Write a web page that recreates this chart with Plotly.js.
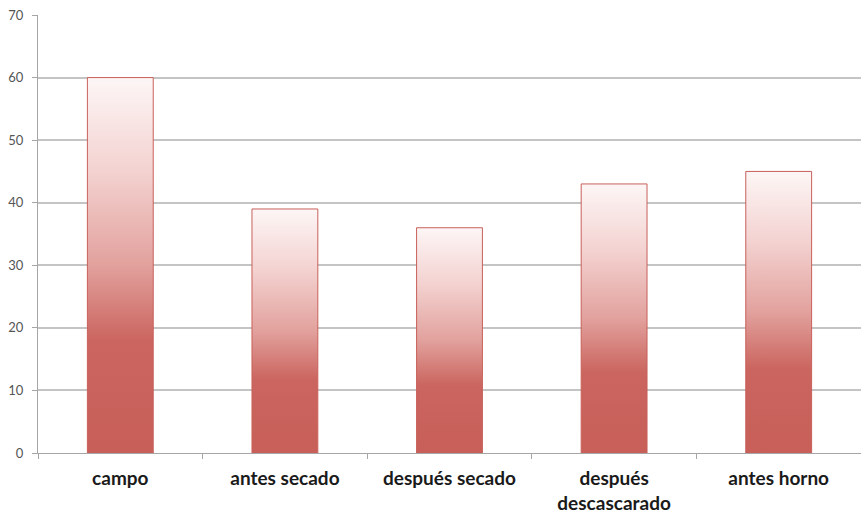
<!DOCTYPE html>
<html>
<head>
<meta charset="utf-8">
<script src="https://cdn.plot.ly/plotly-3.0.1.min.js"></script>
<style>
  html, body { margin: 0; padding: 0; background: #fff; }
  #chart { width: 861px; height: 517px; }
</style>
</head>
<body>
<div id="chart"></div>
<script>
// Stages of the process and the measured value at each one
const categories = ['campo', 'antes secado', 'después secado', 'después<br>descascarado', 'antes horno'];
const values = [60, 39, 36, 43, 45];
const yTicks = [0, 10, 20, 30, 40, 50, 60, 70];

const trace = {
  type: 'bar',
  x: categories,
  y: values,
  marker: {
    color: '#c9615b',
    line: { color: '#c8605a', width: 1 }
  },
  hoverinfo: 'x+y'
};

const layout = {
  width: 861,
  height: 517,
  margin: { l: 38, r: 0, t: 15, b: 64 },
  paper_bgcolor: '#ffffff',
  plot_bgcolor: '#ffffff',
  bargap: 0.6,
  showlegend: false,
  font: { family: 'Lato, "Open Sans", sans-serif' },
  xaxis: {
    type: 'category',
    showline: true,
    linecolor: '#a6a6a6',
    linewidth: 1,
    ticks: 'outside',
    tickson: 'boundaries',
    ticklen: 5,
    tickcolor: '#a6a6a6',
    ticklabelstandoff: 8,
    showgrid: false,
    tickfont: { family: 'Lato, "Open Sans", sans-serif', size: 19, color: '#1a1a1a', weight: 'bold' },
    zeroline: false,
    fixedrange: true
  },
  yaxis: {
    range: [0, 70],
    tickvals: yTicks,
    showline: true,
    linecolor: '#a6a6a6',
    linewidth: 1,
    ticks: 'outside',
    ticklen: 5,
    tickcolor: '#a6a6a6',
    ticklabelstandoff: 6,
    showgrid: true,
    gridcolor: '#c4c4c4',
    gridwidth: 2,
    zeroline: false,
    tickfont: { family: 'Lato, "Open Sans", sans-serif', size: 13, color: '#555555' },
    fixedrange: true
  }
};

// Vertical fade: near white at the top of each bar, solid red in the lower part
function applyGradient(gd) {
  const svg = gd.querySelector('svg.main-svg');
  if (!svg) return;
  const ns = 'http://www.w3.org/2000/svg';
  let defs = svg.querySelector('defs');
  if (!defs) { defs = document.createElementNS(ns, 'defs'); svg.insertBefore(defs, svg.firstChild); }
  if (!svg.querySelector('#barFade')) {
    const grad = document.createElementNS(ns, 'linearGradient');
    grad.setAttribute('id', 'barFade');
    grad.setAttribute('x1', '0'); grad.setAttribute('y1', '0');
    grad.setAttribute('x2', '0'); grad.setAttribute('y2', '1');
    [
      ['0', '#fdf6f6'],
      ['0.25', '#f3d2d0'],
      ['0.5', '#e2a19d'],
      ['0.7', '#cb655f'],
      ['1', '#c85f59']
    ].forEach(([off, col]) => {
      const s = document.createElementNS(ns, 'stop');
      s.setAttribute('offset', off);
      s.setAttribute('stop-color', col);
      grad.appendChild(s);
    });
    defs.appendChild(grad);
  }
  gd.querySelectorAll('.barlayer .point path').forEach(p => {
    p.style.fill = 'url(#barFade)';
    p.style.fillOpacity = 1;
  });
}

const gd = document.getElementById('chart');
Plotly.newPlot(gd, [trace], layout, { displayModeBar: false, staticPlot: true }).then(applyGradient);
</script>
</body>
</html>
